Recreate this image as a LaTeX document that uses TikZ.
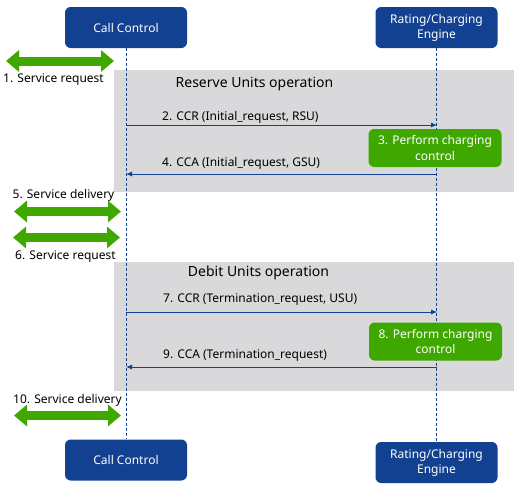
\documentclass[tikz,border=0pt]{standalone}
\usepackage{fontspec}
\setmainfont{Noto Sans}
\usetikzlibrary{arrows.meta,positioning}
\definecolor{boxblue}{HTML}{124191}
\definecolor{boxgreen}{HTML}{3FA800}
\definecolor{opgray}{HTML}{D9D9DB}
\tikzstyle{entity} = [rectangle, fill=boxblue, text=white, rounded corners=2mm,
  align=center, minimum width=122pt, minimum height=41pt, inner sep=0pt,
  font=\fontsize{12}{15}\selectfont]
\tikzstyle{charging} = [rectangle, fill=boxgreen, text=white, rounded corners=2mm,
  align=center, minimum width=133pt, minimum height=38pt, inner sep=0pt,
  font=\fontsize{12}{15.5}\selectfont]
\tikzstyle{operation} = [rectangle, fill=opgray, minimum width=400pt, inner sep=0pt]
\tikzstyle{optitle} = [inner sep=0pt, font=\fontsize{14}{16}\selectfont]
\tikzstyle{msglabel} = [anchor=west, inner sep=0pt, font=\fontsize{12}{14}\selectfont]
\tikzstyle{servlabel} = [inner sep=0pt, font=\fontsize{12}{14}\selectfont]
\tikzstyle{lifeline} = [draw=boxblue, dash pattern=on 3pt off 2pt, line width=0.9pt]
\tikzstyle{line} = [draw=boxblue, -{Latex[length=6pt,width=5pt]}, line width=0.9pt]
\tikzstyle{service} = [draw=boxgreen, line width=9pt,
  {Triangle[length=13pt,width=21pt]}-{Triangle[length=13pt,width=21pt]}]

\begin{document}
\begin{tikzpicture}[x=1pt, y=-1pt]
    \useasboundingbox (0,0) rectangle (525,490);

    % shaded operations
    \node[operation, minimum height=122pt] (reserve) at (314,131) {};
    \node[operation, minimum height=129pt] (debit) at (314,326.5) {};
    \node[optitle] (reservetitle) at (254.5,84) {Reserve Units operation};
    \node[optitle] (debittitle) at (258.5,273) {Debit Units operation};

    % entities and lifelines
    \node[entity] (cc) at (126,27.5) {Call Control};
    \node[entity] (rce) at (436.5,27.5) {Rating/Charging\\Engine};
    \node[entity] (ccbot) at (126,460) {Call Control};
    \node[entity] (rcebot) at (436.5,462.5) {Rating/Charging\\Engine};
    \path[lifeline] (cc) -- (ccbot);
    \path[lifeline] (rce) -- (rcebot);

    \node[charging] (charge1) at (435,148) {3. Perform charging\\control};
    \node[charging] (charge2) at (435.5,341.5) {8. Perform charging\\control};

    % message ends
    \coordinate (ccr1s) at (126,125);
    \coordinate (ccr1e) at (437,125);
    \coordinate (cca1s) at (437,174);
    \coordinate (cca1e) at (126,174);
    \coordinate (ccr2s) at (126,312);
    \coordinate (ccr2e) at (437,312);
    \coordinate (cca2s) at (437,367);
    \coordinate (cca2e) at (126,367);

    \path[line] (ccr1s) -- (ccr1e);
    \path[line] (cca1s) -- (cca1e);
    \path[line] (ccr2s) -- (ccr2e);
    \path[line] (cca2s) -- (cca2e);
    \node[msglabel] (ccr1) at (162,117) {2. CCR (Initial\_request, RSU)};
    \node[msglabel] (cca1) at (162,163) {4. CCA (Initial\_request, GSU)};
    \node[msglabel] (ccr2) at (163,300) {7. CCR (Termination\_request, USU)};
    \node[msglabel] (cca2) at (163,356) {9. CCA (Termination\_request)};

    % service flows
    \coordinate (serv1a) at (6,61);
    \coordinate (serv1b) at (114,61);
    \coordinate (serv5a) at (14,211.5);
    \coordinate (serv5b) at (121,211.5);
    \coordinate (serv6a) at (13,237.5);
    \coordinate (serv6b) at (120,237.5);
    \coordinate (serv10a) at (14,415.5);
    \coordinate (serv10b) at (121,415.5);
    \path[service] (serv1a) -- (serv1b);
    \path[service] (serv5a) -- (serv5b);
    \path[service] (serv6a) -- (serv6b);
    \path[service] (serv10a) -- (serv10b);
    \node[servlabel] (servreq1) at (53.5,80) {1. Service request};
    \node[servlabel] (servdel1) at (63.5,195.5) {5. Service delivery};
    \node[servlabel] (servreq2) at (65.5,256.5) {6. Service request};
    \node[servlabel] (servdel2) at (67.5,400.5) {10. Service delivery};
  \end{tikzpicture}
\end{document}
